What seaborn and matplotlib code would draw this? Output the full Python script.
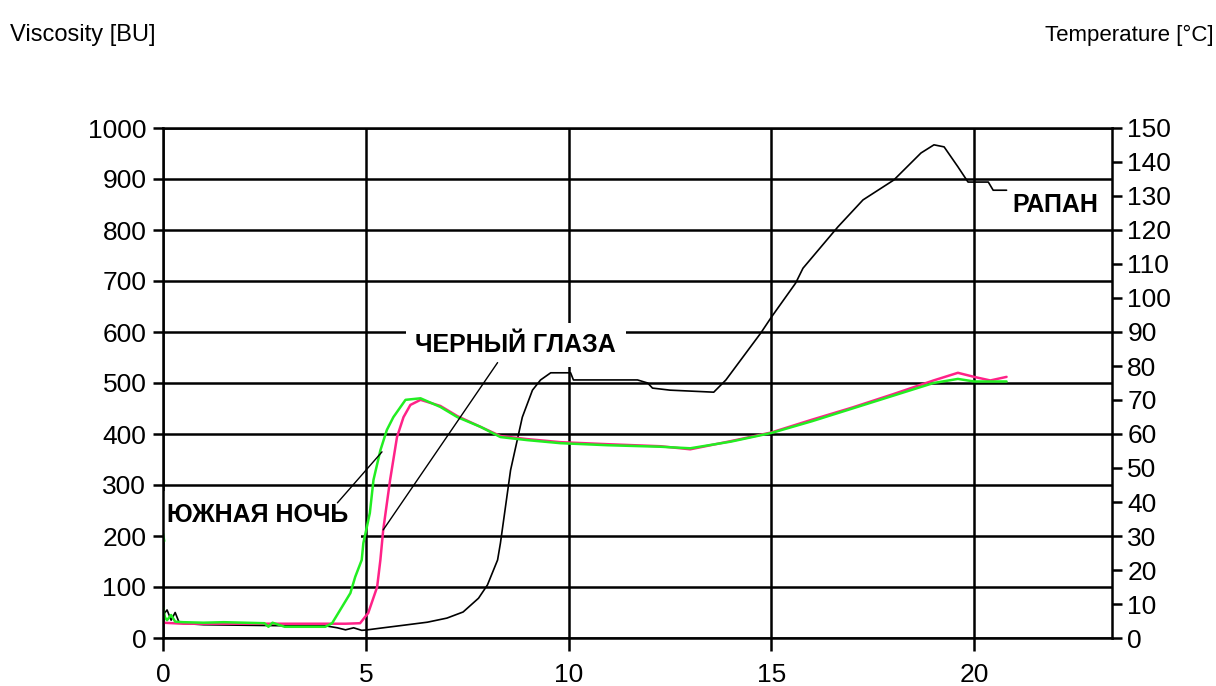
import matplotlib
matplotlib.use("Agg")
import matplotlib.pyplot as plt
import seaborn as sns
import pandas as pd

# ---- data (time in min, viscosity in BU) ----
rapan_t = [0.0, 0.1, 0.2, 0.3, 0.4, 0.6, 1.0, 2.0, 3.0, 4.0, 4.3, 4.5, 4.7, 4.9, 5.04, 5.43, 5.93, 6.52, 7.0, 7.4,
           7.78, 8.0, 8.25, 8.32, 8.57, 8.86, 9.11, 9.31, 9.56, 10.05, 10.12, 10.86, 11.7, 11.95, 12.07, 12.5,
           13.58, 13.88, 14.74, 15.0, 15.6, 15.78, 16.64, 17.26, 18.02, 18.69, 19.01, 19.26, 19.6, 19.85,
           20.35, 20.47, 20.8]
rapan_v = [45, 55, 35, 50, 30, 28, 26, 25, 24, 24, 20, 16, 20, 15, 16, 20, 25, 31, 39, 51,
           78, 104, 153, 186, 329, 433, 486, 506, 520, 520, 506, 506, 506, 500, 490, 486,
           482, 506, 598, 629, 696, 725, 806, 859, 898, 951, 967, 963, 924, 894,
           894, 878, 878]

green_t = [0.0, 0.05, 0.1, 0.2, 0.3, 0.5, 1.0, 1.5, 2.0, 2.5, 2.6, 2.7, 3.0, 3.5, 4.0, 4.17, 4.62, 4.74, 4.9,
           4.94, 5.1, 5.19, 5.36, 5.52, 5.68, 5.98, 6.35, 6.84, 7.26, 7.83, 8.32, 8.98, 9.8, 10.96, 12.27,
           13.0, 14.0, 15.0, 16.0, 17.0, 18.0, 19.0, 19.6, 20.0, 20.8]
green_v = [60, 40, 35, 45, 32, 31, 30, 31, 30, 29, 22, 30, 22, 22, 22, 29, 88, 120, 153,
           186, 245, 310, 368, 408, 433, 467, 470, 453, 433, 414, 394, 388, 382, 378, 375,
           372, 385, 402, 425, 450, 475, 500, 508, 503, 503]

pink_t = [0.0, 0.5, 1.0, 2.0, 3.0, 4.0, 4.5, 4.86, 5.06, 5.28, 5.36, 5.43, 5.6, 5.77, 5.93, 6.1, 6.35, 6.84,
          7.26, 7.83, 8.32, 8.98, 9.8, 10.96, 12.27, 13.0, 14.0, 15.0, 16.0, 17.0, 18.0, 19.0, 19.6,
          20.0, 20.4, 20.8]
pink_v = [30, 28, 28, 28, 28, 28, 28, 29, 49, 100, 153, 212, 310, 394, 433, 457, 467, 455,
          435, 414, 396, 390, 384, 380, 376, 370, 386, 403, 428, 452, 478, 505, 520,
          512, 505, 512]

temp_mark_t = [0.0, 0.03]
temp_mark_v = [205, 190]

x_ticks = [0, 5, 10, 15, 20]
y_ticks = list(range(0, 1001, 100))
temp_ticks = list(range(0, 151, 10))

labels = ["ЮЖНАЯ НОЧЬ", "ЧЕРНЫЙ ГЛАЗА", "РАПАН"]
label_pos = [(0.1, 241), (6.22, 575), (23.06, 849)]
label_ha = ["left", "left", "right"]
leader_from = [(4.3, 265), (8.25, 540), None]
leader_to = [(5.4, 365), (5.43, 212), None]

# ---- style ----
sns.set_style("white")
plt.rcParams['font.family'] = ['Liberation Sans', 'DejaVu Sans']
plt.rcParams['text.color'] = 'black'
plt.rcParams['xtick.color'] = 'black'
plt.rcParams['ytick.color'] = 'black'

fig = plt.figure(figsize=(12.16, 6.86), dpi=100)
ax = fig.add_axes([163/1216, 1-638/686, (1112-163)/1216, (638-128)/686])

df_r = pd.DataFrame({"t": rapan_t, "v": rapan_v})
df_g = pd.DataFrame({"t": green_t, "v": green_v})
df_p = pd.DataFrame({"t": pink_t, "v": pink_v})
df_m = pd.DataFrame({"t": temp_mark_t, "v": temp_mark_v})

sns.lineplot(data=df_r, x="t", y="v", ax=ax, color="black", lw=1.2, sort=False, zorder=4)
sns.lineplot(data=df_p, x="t", y="v", ax=ax, color="#ff2288", lw=1.8, sort=False, zorder=5)
sns.lineplot(data=df_g, x="t", y="v", ax=ax, color="#22ee22", lw=1.8, sort=False, zorder=6)
sns.lineplot(data=df_m, x="t", y="v", ax=ax, color="#22ee22", lw=1.8, sort=False, zorder=6)

ax.set_xlim(0, 23.4)
ax.set_ylim(0, 1000)
ax.set_xticks(x_ticks)
ax.set_yticks(y_ticks)
ax.set_xlabel("")
ax.set_ylabel("")
ax.grid(True, color="black", lw=1.8)
ax.set_axisbelow(True)
for s in ax.spines.values():
    s.set_color("black")
    s.set_linewidth(1.8)
    s.set_zorder(10)
ax.tick_params(axis="y", direction="out", length=7, width=1.8, color="black",
               labelsize=19, pad=5, left=True)
ax.tick_params(axis="x", direction="out", length=9, width=1.8, color="black",
               labelsize=19, pad=9, bottom=True)

ax2 = ax.twinx()
ax2.set_ylim(0, 150)
ax2.set_yticks(temp_ticks)
ax2.tick_params(axis="y", direction="out", length=7, width=1.8, color="black",
                labelsize=19, pad=4, right=True)
for s in ax2.spines.values():
    s.set_visible(False)

box_pads = [9, 7, 3]
for lab, pos, ha, fr, to, bp in zip(labels, label_pos, label_ha, leader_from, leader_to, box_pads):
    if fr is not None:
        ax.plot([fr[0], to[0]], [fr[1], to[1]], color="black", lw=1.0, zorder=7)
    ax.text(pos[0], pos[1], lab, ha=ha, va="center", fontsize=18, fontweight="bold",
            zorder=3, clip_on=True, bbox=dict(facecolor="white", edgecolor="none", pad=bp))

fig.text(10/1216, 1-35/686, "Viscosity [BU]", ha="left", va="center", fontsize=17)
fig.text(1214/1216, 1-35/686, "Temperature [°C]", ha="right", va="center", fontsize=16)

fig.savefig("out.png", dpi=100)
